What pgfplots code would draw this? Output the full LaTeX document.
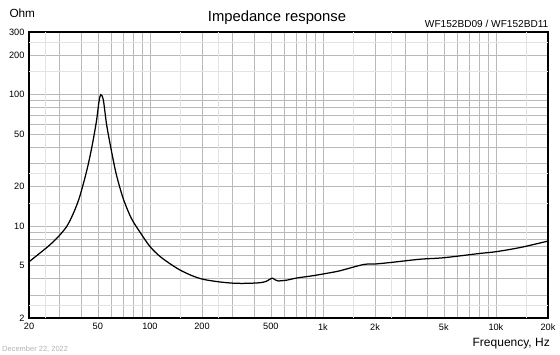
\documentclass[border=0pt]{standalone}
\usepackage{pgfplots}
\pgfplotsset{compat=1.18}
\usepackage{fontspec}
\setmainfont{Liberation Sans}
\begin{document}
\begin{tikzpicture}[x=1pt,y=1pt]
\useasboundingbox (-29,-36) rectangle (531,318);
\begin{axis}[
  at={(0,0)}, anchor=south west,
  scale only axis, width=519pt, height=286pt,
  xmode=log, ymode=log,
  xmin=20, xmax=20000, ymin=2, ymax=300,
  xtick={20,50,100,200,500,1000,2000,5000,10000,20000},
  xticklabels={20,50,100,200,500,1k,2k,5k,10k,20k},
  ytick={2,5,10,20,50,100,200,300},
  yticklabels={2,5,10,20,50,100,200,300},
  minor xtick={30,40,60,70,80,90,300,400,600,700,800,900,3000,4000,6000,7000,8000,9000},
  minor ytick={3,4,6,7,8,9,30,40,60,70,80,90},
  extra x ticks={25,150,250,1500,2500,15000},
  extra x tick labels={},
  extra x tick style={grid=major, major grid style={gray!22, line width=0.8pt}},
  extra y ticks={2.5,15,25,150,250},
  extra y tick labels={},
  extra y tick style={grid=major, major grid style={gray!22, line width=0.8pt}},
  grid=both,
  major grid style={gray!55, line width=0.5pt},
  minor grid style={gray!55, line width=0.5pt},
  major tick length=0pt, minor tick length=0pt,
  axis line style={black, line width=1.3pt},
  tick label style={font=\fontsize{9.2}{10}\selectfont},
  xticklabel style={yshift=-2pt},
  yticklabel style={xshift=-1pt},
  /pgf/number format/assume math mode=true,
  clip=true,
]
\addplot[black, line width=1.25pt, smooth, tension=0.5] coordinates {
(20,5.35) (23,6.2) (26.4,7.2) (30,8.5) (33,9.9) (34.5,11) (37,13.5) (39.4,17)
(43,26) (46,39) (49,62) (50.8,89) (52,100) (53.8,91) (56.2,59) (60,37)
(64,24.6) (70,16.3) (78,11.5) (87.6,9.0) (100,7.0) (114,5.9) (130,5.2)
(149,4.64) (175,4.2) (203,3.94) (250,3.77) (304,3.68) (360,3.67) (432,3.71)
(470,3.8) (490,3.92) (510,4.02) (530,3.9) (550,3.83) (616,3.88) (706,4.03)
(880,4.2) (1100,4.42) (1258,4.58) (1712,5.1) (2000,5.15) (2500,5.3)
(3640,5.6) (5000,5.75) (8090,6.2) (10100,6.4) (14000,6.9) (20000,7.7)
};
\end{axis}
\node[anchor=base west, font=\fontsize{11.8}{13}\selectfont, inner sep=0pt] at (-19.7,300.7) {Ohm};
\node[font=\fontsize{14.8}{16}\selectfont] at (248,300) {Impedance response};
\node[anchor=base east, font=\fontsize{10.1}{12}\selectfont, inner sep=0pt] at (519.5,290) {WF152BD09 / WF152BD11};
\node[anchor=base east, font=\fontsize{12}{14}\selectfont, inner sep=0pt] at (521,-28.7) {Frequency, Hz};
\node[anchor=west, text=gray!60, font=\fontsize{7.5}{9}\selectfont, inner sep=0pt] at (-27,-31) {December 22, 2022};
\end{tikzpicture}
\end{document}
